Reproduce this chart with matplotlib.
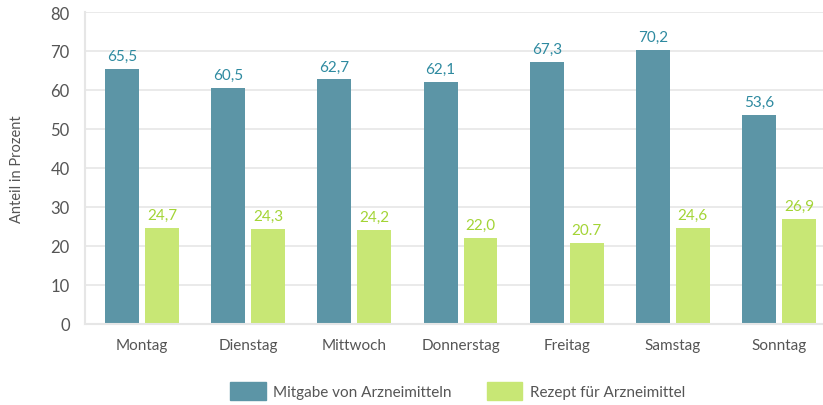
import matplotlib
matplotlib.use("Agg")
import matplotlib.pyplot as plt
import numpy as np
from matplotlib.patches import Patch

plt.rcParams['font.family'] = ['Lato', 'DejaVu Sans']

# Daten
tage = ['Montag', 'Dienstag', 'Mittwoch', 'Donnerstag', 'Freitag', 'Samstag', 'Sonntag']
mitgabe = [65.5, 60.5, 62.7, 62.1, 67.3, 70.2, 53.6]
rezept = [24.7, 24.3, 24.2, 22.0, 20.7, 24.6, 26.9]
mitgabe_labels = ['65,5', '60,5', '62,7', '62,1', '67,3', '70,2', '53,6']
rezept_labels = ['24,7', '24,3', '24,2', '22,0', '20.7', '24,6', '26,9']

teal = '#5c95a6'
green = '#c8e775'
teal_txt = '#2e8aa0'
green_txt = '#a3d435'
grid_col = '#e6e6e6'
txt_col = '#555555'

fig = plt.figure(figsize=(8.23, 4.06), dpi=100)
ax = fig.add_axes([85 / 823, 1 - 325 / 406, 1 - 85 / 823, (325 - 13) / 406])

x = np.arange(len(tage))
w = 0.32
off = 0.188
b1 = ax.bar(x - off, mitgabe, w, color=teal)
b2 = ax.bar(x + off, rezept, w, color=green)

for rect, lab in zip(b1, mitgabe_labels):
    ax.text(rect.get_x() + rect.get_width() / 2, rect.get_height() + 1.5, lab,
            ha='center', va='bottom', color=teal_txt, fontsize=11)
for rect, lab in zip(b2, rezept_labels):
    ax.text(rect.get_x() + rect.get_width() / 2, rect.get_height() + 1.5, lab,
            ha='center', va='bottom', color=green_txt, fontsize=11)

ax.set_ylim(0, 80)
ax.set_xlim(-0.537, 6.414)
ax.set_yticks(range(0, 81, 10))
ax.set_xticks(x)
ax.set_xticklabels(tage)
ax.yaxis.grid(True, color=grid_col, linewidth=1.2)
ax.set_axisbelow(True)
for s in ['top', 'right']:
    ax.spines[s].set_visible(False)
for s in ['left', 'bottom']:
    ax.spines[s].set_color(grid_col)
    ax.spines[s].set_linewidth(1.5)
ax.tick_params(length=0, labelsize=11, colors=txt_col)
ax.tick_params(axis='y', labelsize=12)
ax.tick_params(axis='x', pad=10)
ax.tick_params(axis='y', pad=11)
ax.set_ylabel('Anteil in Prozent', color=txt_col, fontsize=10.5, labelpad=19)

handles = [Patch(color=teal, label='Mitgabe von Arzneimitteln'),
           Patch(color=green, label='Rezept für Arzneimittel')]
fig.legend(handles=handles, loc='center', bbox_to_anchor=(0.556, 1 - 392 / 406),
           ncol=2, frameon=False, fontsize=11, labelcolor=txt_col,
           handlelength=2.3, handleheight=1.45, columnspacing=2.3, handletextpad=0.5)

fig.savefig('out.png', dpi=100)
